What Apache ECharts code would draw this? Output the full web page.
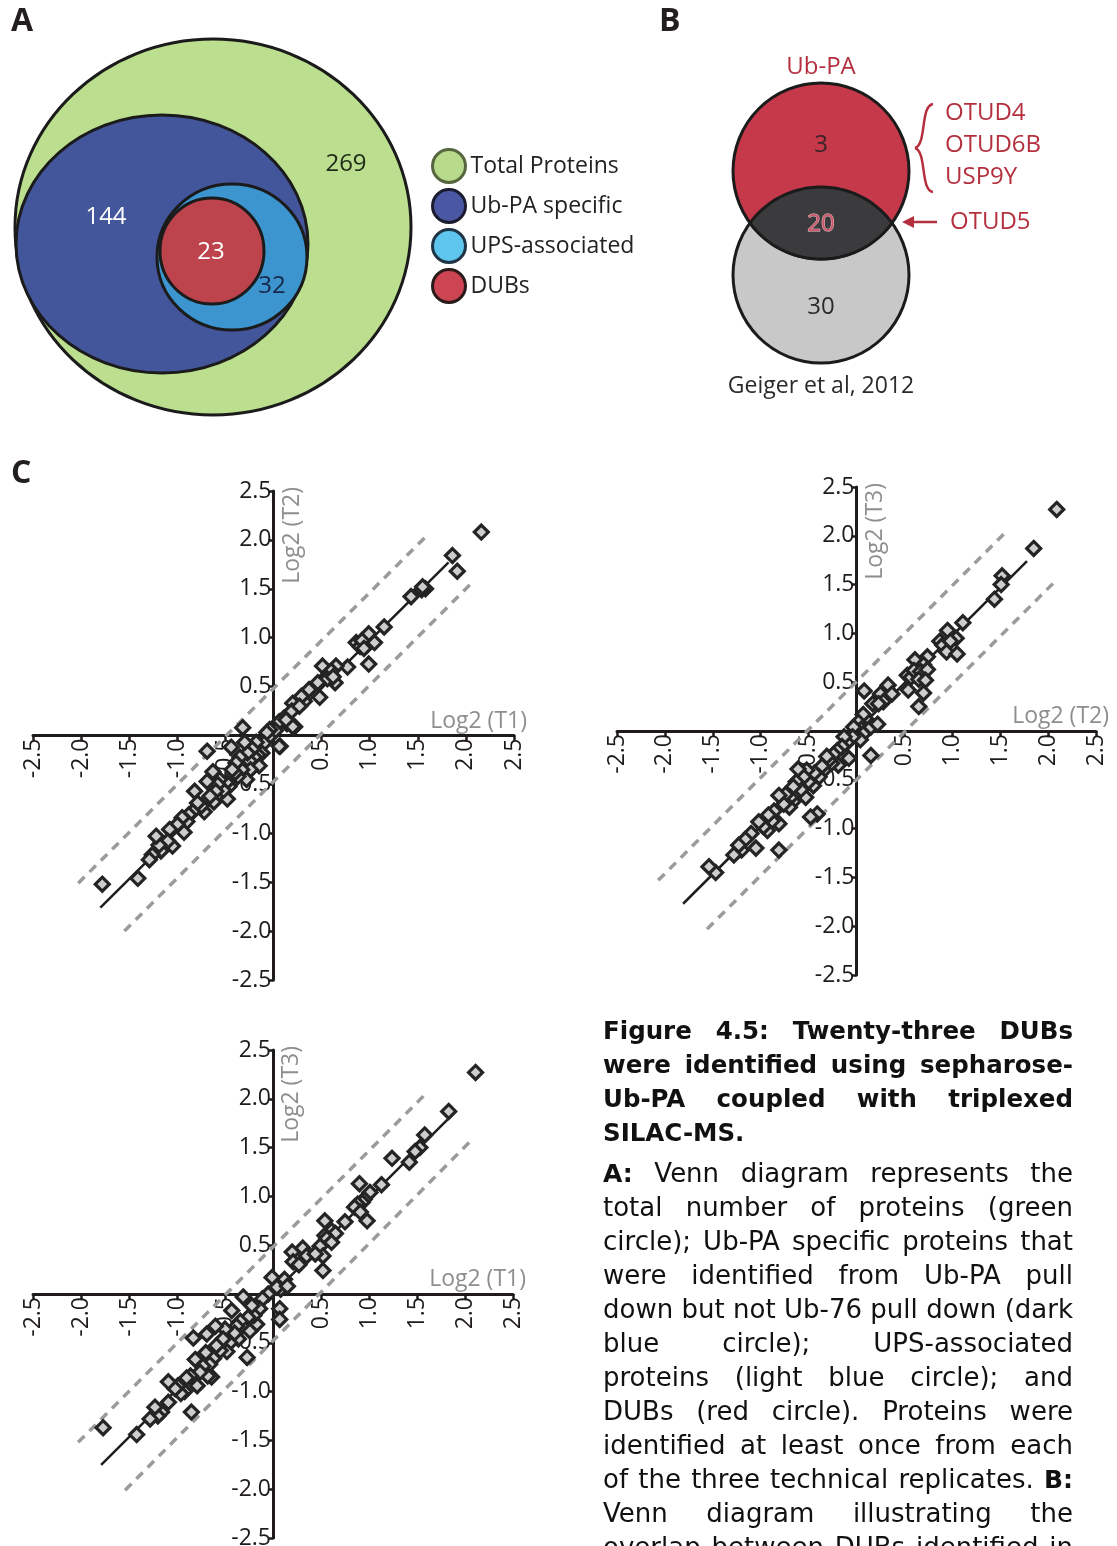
<!DOCTYPE html>
<html><head><meta charset="utf-8">
<script src="https://cdn.jsdelivr.net/npm/echarts@6/dist/echarts.min.js"></script>
<style>
html,body{margin:0;padding:0;background:#fff;}
#wrap{position:relative;width:1117px;height:1546px;overflow:hidden;}
#chart{position:absolute;left:0;top:0;width:1117px;height:1546px;}
#caption{position:absolute;left:603px;top:1014px;width:470px;font-family:"DejaVu Sans",sans-serif;font-size:26px;line-height:34px;color:#111;}
#caption .l{text-align:justify;text-align-last:justify;height:34px;overflow:visible;}
#caption .left{text-align:left;text-align-last:left;}
#caption .t{font-weight:bold;font-size:24.5px;}
#caption b{font-size:25px;}
#caption .gap{height:6px;}
</style></head>
<body>
<div id="wrap">
<div id="chart"></div>
<div id="caption">
<div class="l t">Figure 4.5: Twenty-three DUBs</div>
<div class="l t">were identified using sepharose-</div>
<div class="l t">Ub-PA coupled with triplexed</div>
<div class="l t left">SILAC-MS.</div>
<div class="gap"></div>
<div class="l"><b>A:</b> Venn diagram represents the</div>
<div class="l">total number of proteins (green</div>
<div class="l">circle); Ub-PA specific proteins that</div>
<div class="l">were identified from Ub-PA pull</div>
<div class="l">down but not Ub-76 pull down (dark</div>
<div class="l">blue circle); UPS-associated</div>
<div class="l">proteins (light blue circle); and</div>
<div class="l">DUBs (red circle). Proteins were</div>
<div class="l">identified at least once from each</div>
<div class="l">of the three technical replicates. <b>B:</b></div>
<div class="l">Venn diagram illustrating the</div>
<div class="l">overlap between DUBs identified in</div>
</div>
</div>
<script>
// ---------------- DATA ----------------
const vennASets = ['Total Proteins', 'Ub-PA specific', 'UPS-associated', 'DUBs'];
const vennACounts = [269, 144, 32, 23];

const vennBSets = ['Ub-PA', 'Geiger et al, 2012'];
const vennBCounts = [3, 20, 30];          // Ub-PA only, overlap, Geiger only
const vennBUniqueDUBs = ['OTUD4', 'OTUD6B', 'USP9Y'];
const vennBHighlight = 'OTUD5';

const tickValues = [-2.5, -2.0, -1.5, -1.0, -0.5, 0, 0.5, 1.0, 1.5, 2.0, 2.5];

const pointsT1T2 = [
 [2.16,2.08],[1.86,1.84],[1.91,1.68],[1.58,1.50],[1.54,1.49],[1.43,1.42],[1.55,1.52],[1.15,1.11],[0.99,1.04],[1.05,0.95],
 [0.86,0.95],[0.90,0.91],[0.92,0.97],[0.94,0.89],[0.99,0.73],[0.77,0.70],[0.65,0.71],[0.51,0.71],[0.58,0.64],[0.64,0.54],
 [0.55,0.60],[0.60,0.66],[0.56,0.58],[0.62,0.60],[0.46,0.54],[0.48,0.39],[0.37,0.47],[0.32,0.35],[0.29,0.40],[0.20,0.33],
 [0.19,0.25],[0.22,0.09],[0.11,0.18],[0.14,0.12],[0.06,0.14],[0.02,0.05],[-0.04,0.06],[0.07,-0.11],[0.20,0.09],[0.13,0.16],
 [0.27,0.30],[-0.05,-0.02],[-0.07,0.03],[0.06,-0.11],[-0.10,-0.08],[-0.12,-0.18],[-0.16,-0.20],[-0.18,-0.07],[-0.15,-0.31],[-0.20,-0.22],
 [-0.22,-0.14],[-0.25,-0.26],[-0.24,-0.35],[-0.27,-0.18],[-0.28,-0.45],[-0.30,-0.07],[-0.32,0.08],[-0.33,-0.35],[-0.35,-0.22],[-0.37,-0.42],
 [-0.39,-0.28],[-0.40,-0.38],[-0.43,-0.35],[-0.44,-0.12],[-0.46,-0.52],[-0.48,-0.65],[-0.49,-0.48],[-0.52,-0.56],[-0.56,-0.45],[-0.58,-0.50],
 [-0.60,-0.57],[-0.62,-0.68],[-0.63,-0.37],[-0.66,-0.62],[-0.69,-0.47],[-0.69,-0.16],[-0.72,-0.78],[-0.75,-0.72],[-0.79,-0.69],[-0.82,-0.57],
 [-0.84,-0.78],[-0.88,-0.81],[-0.90,-0.88],[-0.93,-0.99],[-0.95,-0.84],[-1.00,-0.91],[-1.05,-1.13],[-1.08,-0.96],[-1.10,-1.08],[-1.17,-1.18],
 [-1.19,-1.12],[-1.22,-1.03],[-1.26,-1.22],[-1.29,-1.27],[-1.41,-1.46],[-1.78,-1.52]
];
const pointsT2T3 = [
 [2.09,2.27],[1.85,1.87],[1.52,1.59],[1.51,1.50],[1.44,1.35],[1.11,1.11],[0.95,1.03],[1.04,0.95],[0.87,0.92],[0.90,0.88],
 [0.98,0.92],[0.94,0.81],[1.05,0.79],[0.74,0.76],[0.61,0.73],[0.70,0.68],[0.53,0.57],[0.57,0.55],[0.60,0.62],[0.67,0.61],
 [0.74,0.63],[0.65,0.53],[0.72,0.52],[0.54,0.42],[0.70,0.39],[0.65,0.25],[0.33,0.47],[0.25,0.38],[0.37,0.38],[0.28,0.30],
 [0.08,0.41],[0.17,0.28],[0.12,0.10],[0.07,0.17],[0.02,0.09],[0.05,0.02],[0.00,0.00],[-0.03,0.04],[0.07,-0.03],[0.04,-0.09],
 [0.15,-0.25],[0.15,0.04],[0.22,0.07],[0.23,0.28],[-0.04,-0.06],[-0.08,-0.28],[-0.10,-0.12],[-0.13,-0.06],[-0.15,-0.16],[-0.19,-0.35],
 [-0.20,-0.20],[-0.24,-0.24],[-0.26,-0.33],[-0.29,-0.30],[-0.31,-0.26],[-0.34,-0.40],[-0.36,-0.36],[-0.39,-0.47],[-0.41,-0.85],[-0.44,-0.43],
 [-0.45,-0.56],[-0.48,-0.88],[-0.50,-0.52],[-0.52,-0.40],[-0.53,-0.68],[-0.55,-0.47],[-0.58,-0.60],[-0.61,-0.39],[-0.63,-0.52],[-0.66,-0.57],
 [-0.66,-0.72],[-0.69,-0.68],[-0.70,-0.78],[-0.74,-0.65],[-0.76,-0.75],[-0.81,-0.66],[-0.81,-0.95],[-0.81,-1.22],[-0.86,-0.82],[-0.88,-0.92],
 [-0.92,-0.86],[-0.93,-1.02],[-0.97,-0.98],[-1.02,-0.93],[-1.05,-1.20],[-1.10,-1.05],[-1.16,-1.11],[-1.20,-1.22],[-1.23,-1.17],[-1.28,-1.27],
 [-1.47,-1.45],[-1.54,-1.39]
];
const pointsT1T3 = [
 [2.11,2.27],[1.83,1.87],[1.58,1.63],[1.53,1.50],[1.48,1.46],[1.42,1.35],[1.24,1.39],[1.13,1.12],[0.90,1.13],[1.01,1.04],
 [0.95,0.97],[0.93,0.94],[0.88,0.92],[0.85,0.89],[0.91,0.84],[0.98,0.75],[0.75,0.74],[0.54,0.75],[0.61,0.65],[0.65,0.62],
 [0.54,0.60],[0.56,0.57],[0.61,0.53],[0.49,0.49],[0.52,0.39],[0.52,0.24],[0.31,0.47],[0.20,0.43],[0.21,0.33],[0.35,0.39],
 [0.44,0.41],[0.27,0.30],[0.12,0.15],[0.08,0.05],[-0.01,0.17],[0.04,0.07],[0.15,0.08],[0.07,-0.15],[0.07,-0.26],[-0.05,0.00],
 [-0.11,-0.05],[-0.14,-0.15],[-0.17,-0.31],[-0.20,-0.22],[-0.22,-0.12],[-0.24,-0.38],[-0.26,-0.24],[-0.27,-0.65],[-0.31,-0.03],[-0.34,-0.28],
 [-0.36,-0.46],[-0.38,-0.33],[-0.40,-0.40],[-0.43,-0.17],[-0.45,-0.50],[-0.48,-0.59],[-0.50,-0.36],[-0.52,-0.46],[-0.55,-0.58],[-0.59,-0.53],
 [-0.60,-0.33],[-0.62,-0.66],[-0.64,-0.85],[-0.66,-0.72],[-0.68,-0.84],[-0.69,-0.41],[-0.70,-0.60],[-0.73,-0.74],[-0.76,-0.80],[-0.79,-0.94],
 [-0.81,-0.67],[-0.83,-0.45],[-0.85,-1.21],[-0.86,-0.84],[-0.90,-0.86],[-0.92,-1.00],[-0.96,-1.02],[-0.99,-0.94],[-1.02,-0.97],[-1.09,-0.90],
 [-1.09,-1.11],[-1.16,-1.21],[-1.20,-1.25],[-1.23,-1.16],[-1.28,-1.28],[-1.42,-1.44],[-1.77,-1.37]
];
const fitT1T2 = [[-1.80,-1.76],[1.82,1.77]];
const upperT1T2 = [[-2.03,-1.51],[1.60,2.05]];
const lowerT1T2 = [[-1.55,-2.00],[2.06,1.56]];
const fitT2T3 = [[-1.81,-1.77],[1.78,1.74]];
const upperT2T3 = [[-2.07,-1.53],[1.56,2.04]];
const lowerT2T3 = [[-1.56,-2.03],[2.05,1.51]];
const fitT1T3 = [[-1.79,-1.75],[1.82,1.79]];
const upperT1T3 = [[-2.03,-1.52],[1.61,2.07]];
const lowerT1T3 = [[-1.54,-2.01],[2.05,1.56]];

// ---------------- LAYOUT / STYLE ----------------
const FONT = '"Open Sans", "Noto Sans", sans-serif';
const AX = '#1f1b1c';
const vennALayout = {
  shapes: [[213, 227, 198, 188], [162, 244, 146, 129], [232, 257, 75, 73], [212, 251, 52, 53]],
  fills: ['#bcdf8f', '#44569b', '#3c95cf', '#bd434c'],
  labelPos: [[346, 164], [106, 217], [272, 286], [211, 252]],
  labelColors: ['#1f2a18', '#ffffff', '#17274a', '#ffffff'],
  legendFills: ['#b7db8b', '#4a58a3', '#5ec5ec', '#cd4453'],
  legendBorders: ['#56663f', '#1c1c30', '#1f3444', '#2b1a1a']
};
const vennBLayout = {
  circles: [[181, 171, 88], [181, 275, 88]],      // Ub-PA, Geiger
  fills: ['#c5394a', '#c8c8c8'],
  overlapFill: '#3b3b3d',
  countPos: [[181, 145], [181, 224], [181, 307]],
  countColors: ['#3a2426', '#e48d98', '#2a2a2a']
};
const plotGrids = [
  {left: 33, top: 491, width: 481, height: 489},
  {left: 617, top: 487, width: 479, height: 488},
  {left: 33, top: 1050, width: 480, height: 488}
];

const chart = echarts.init(document.getElementById('chart'), null, {renderer: 'canvas'});

function fmt(v) { return Math.abs(v) < 1e-9 ? '' : v.toFixed(1); }

function scatterAxes(gi, xName, yName) {
  const g = plotGrids[gi];
  const x = {
    type: 'value', gridIndex: gi, position: 'bottom', offset: -g.height / 2,
    min: tickValues[0], max: tickValues[tickValues.length - 1], interval: 0.5,
    name: xName, nameLocation: 'end', nameGap: 13, nameMoveOverlap: false,
    nameTextStyle: {color: '#8e8e8e', fontSize: 23, fontFamily: FONT, align: 'right', verticalAlign: 'bottom', padding: [0, 0, 3, 0]},
    axisLine: {onZero: false, lineStyle: {color: AX, width: 3}},
    axisTick: {show: true, length: 5, lineStyle: {color: AX, width: 2.5}},
    axisLabel: {rotate: 90, margin: 3, fontSize: 23, color: AX, fontFamily: FONT, formatter: fmt},
    splitLine: {show: false}
  };
  const y = {
    type: 'value', gridIndex: gi, position: 'left', offset: -g.width / 2,
    min: tickValues[0], max: tickValues[tickValues.length - 1], interval: 0.5,
    name: yName, nameLocation: 'end', nameGap: 4, nameRotate: 90, nameMoveOverlap: false,
    nameTextStyle: {color: '#8e8e8e', fontSize: 23, fontFamily: FONT, align: 'right', verticalAlign: 'top', padding: [7, 0, 0, 0]},
    axisLine: {onZero: false, lineStyle: {color: AX, width: 3}},
    axisTick: {show: true, length: 5, lineStyle: {color: AX, width: 2.5}},
    axisLabel: {margin: 2, fontSize: 23, color: AX, fontFamily: FONT, formatter: fmt},
    splitLine: {show: false}
  };
  return [x, y];
}
const [x0, y0] = scatterAxes(0, 'Log2 (T1)', 'Log2 (T2)');
const [x1, y1] = scatterAxes(1, 'Log2 (T2)', 'Log2 (T3)');
const [x2, y2] = scatterAxes(2, 'Log2 (T1)', 'Log2 (T3)');

function plotSeries(gi, pts, fit, up, lo) {
  const dash = {color: '#9b9b9b', width: 3.5, type: [9, 7]};
  return [
    {type: 'line', xAxisIndex: gi, yAxisIndex: gi, data: up, showSymbol: false, symbol: 'none', lineStyle: dash, z: 3, silent: true},
    {type: 'line', xAxisIndex: gi, yAxisIndex: gi, data: lo, showSymbol: false, symbol: 'none', lineStyle: dash, z: 3, silent: true},
    {type: 'line', xAxisIndex: gi, yAxisIndex: gi, data: fit, showSymbol: false, symbol: 'none', lineStyle: {color: '#1e1e1e', width: 2.5}, z: 3, silent: true},
    {type: 'scatter', xAxisIndex: gi, yAxisIndex: gi, data: pts, symbol: 'diamond', symbolSize: 14,
     itemStyle: {color: '#cdcdcd', borderColor: '#242424', borderWidth: 3.2, opacity: 1}, z: 4, silent: true}
  ];
}

// Venn A series (one per set, for the legend)
const vennASeries = vennASets.map((name, i) => ({
  type: 'custom', name: name, xAxisIndex: 3, yAxisIndex: 3, z: 2 + i, silent: true,
  itemStyle: {color: vennALayout.fills[i]},
  data: [vennALayout.shapes[i]],
  renderItem: (params, api) => {
    const c = api.coord([api.value(0), api.value(1)]);
    const s = api.size([api.value(2), api.value(3)]);
    return {type: 'ellipse', shape: {cx: c[0], cy: c[1], rx: s[0], ry: s[1]},
            style: {fill: vennALayout.fills[i], stroke: '#1b1b1b', lineWidth: 3}};
  }
}));
const vennALabelSeries = {
  type: 'custom', xAxisIndex: 3, yAxisIndex: 3, z: 10, silent: true,
  data: vennACounts.map((c, i) => [vennALayout.labelPos[i][0], vennALayout.labelPos[i][1], c, i]),
  renderItem: (params, api) => {
    const p = api.coord([api.value(0), api.value(1)]);
    const i = api.value(3);
    return {type: 'text', x: p[0], y: p[1],
            style: {text: String(api.value(2)), fill: vennALayout.labelColors[i], font: '24px ' + FONT, align: 'center', verticalAlign: 'middle'}};
  }
};

// Venn B
const vennBCircleSeries = {
  type: 'custom', xAxisIndex: 4, yAxisIndex: 4, z: 2, silent: true,
  data: [[...vennBLayout.circles[1], 1], [...vennBLayout.circles[0], 0]],
  renderItem: (params, api) => {
    const c = api.coord([api.value(0), api.value(1)]);
    const r = api.size([api.value(2), api.value(2)])[0];
    return {type: 'circle', shape: {cx: c[0], cy: c[1], r: r},
            style: {fill: vennBLayout.fills[api.value(3)], stroke: '#1b1b1b', lineWidth: 3}};
  }
};
const vennBOverlapSeries = {
  type: 'custom', xAxisIndex: 4, yAxisIndex: 4, z: 3, silent: true,
  data: [[vennBLayout.circles[0][0], vennBLayout.circles[0][1], vennBLayout.circles[1][0], vennBLayout.circles[1][1], vennBLayout.circles[0][2]]],
  renderItem: (params, api) => {
    const c1 = api.coord([api.value(0), api.value(1)]);
    const c2 = api.coord([api.value(2), api.value(3)]);
    const r = api.size([api.value(4), api.value(4)])[0];
    const h = (c2[1] - c1[1]) / 2;
    const w = Math.sqrt(r * r - h * h);
    const pts = [];
    const a1 = Math.atan2(-h, -w), a2 = Math.atan2(-h, w);
    for (let k = 0; k <= 60; k++) { const a = a1 + (a2 - a1) * k / 60; pts.push([c2[0] + r * Math.cos(a), c2[1] + r * Math.sin(a)]); }
    const b1 = Math.atan2(h, w), b2 = Math.atan2(h, -w);
    for (let k = 0; k <= 60; k++) { const a = b1 + (b2 - b1) * k / 60; pts.push([c1[0] + r * Math.cos(a), c1[1] + r * Math.sin(a)]); }
    return {type: 'polygon', shape: {points: pts}, style: {fill: vennBLayout.overlapFill, stroke: '#1b1b1b', lineWidth: 3}};
  }
};
const vennBLabelSeries = {
  type: 'custom', xAxisIndex: 4, yAxisIndex: 4, z: 10, silent: true,
  data: vennBCounts.map((c, i) => [vennBLayout.countPos[i][0], vennBLayout.countPos[i][1], c, i]),
  renderItem: (params, api) => {
    const p = api.coord([api.value(0), api.value(1)]);
    const i = api.value(3);
    const st = {text: String(api.value(2)), fill: vennBLayout.countColors[i], font: '24px ' + FONT, align: 'center', verticalAlign: 'middle'};
    if (i === 1) { st.fill = '#c9566a'; st.stroke = '#f2c2c8'; st.lineWidth = 1; }
    return {type: 'text', x: p[0], y: p[1], style: st};
  }
};

const RED = '#b5303f';
const redText = (txt, x, y, align) => ({type: 'text', x: x, y: y, silent: true,
  style: {text: txt, fill: RED, font: '24px ' + FONT, align: align || 'left', verticalAlign: 'middle'}});

const option = {
  animation: false,
  backgroundColor: '#ffffff',
  grid: [
    Object.assign({containLabel: false, outerBoundsMode: 'none'}, plotGrids[0]),
    Object.assign({containLabel: false, outerBoundsMode: 'none'}, plotGrids[1]),
    Object.assign({containLabel: false, outerBoundsMode: 'none'}, plotGrids[2]),
    {left: 0, top: 0, width: 420, height: 420, containLabel: false, outerBoundsMode: 'none', show: false},
    {left: 640, top: 0, width: 477, height: 420, containLabel: false, outerBoundsMode: 'none', show: false}
  ],
  xAxis: [x0, x1, x2,
    {type: 'value', gridIndex: 3, min: 0, max: 420, show: false},
    {type: 'value', gridIndex: 4, min: 0, max: 477, show: false}],
  yAxis: [y0, y1, y2,
    {type: 'value', gridIndex: 3, min: 0, max: 420, inverse: true, show: false},
    {type: 'value', gridIndex: 4, min: 0, max: 420, inverse: true, show: false}],
  legend: {
    orient: 'vertical', left: 431, top: 148, itemWidth: 33, itemHeight: 33, itemGap: 4,
    icon: 'circle', selectedMode: false, padding: 0,
    textStyle: {fontSize: 23, color: '#222', fontFamily: FONT},
    data: vennASets.map((n, i) => ({name: n, itemStyle: {color: vennALayout.legendFills[i], borderColor: vennALayout.legendBorders[i], borderWidth: 3}}))
  },
  graphic: [
    {type: 'text', x: 11, y: 6, style: {text: 'A', fill: '#231f20', font: 'bold 32px ' + FONT}},
    {type: 'text', x: 659, y: 6, style: {text: 'B', fill: '#231f20', font: 'bold 32px ' + FONT}},
    {type: 'text', x: 11, y: 458, style: {text: 'C', fill: '#231f20', font: 'bold 32px ' + FONT}},
    redText(vennBSets[0], 821, 67, 'center'),
    {type: 'text', x: 821, y: 386, style: {text: vennBSets[1], fill: '#2a2a2a', font: '23px ' + FONT, align: 'center', verticalAlign: 'middle'}},
    redText(vennBUniqueDUBs[0], 945, 113),
    redText(vennBUniqueDUBs[1], 945, 145),
    redText(vennBUniqueDUBs[2], 945, 177),
    redText(vennBHighlight, 950, 222),
    {type: 'bezierCurve', shape: {x1: 933, y1: 104, cpx1: 920, cpy1: 106, cpx2: 927, cpy2: 144, x2: 915, y2: 148}, style: {stroke: RED, lineWidth: 2.5, fill: null}},
    {type: 'bezierCurve', shape: {x1: 915, y1: 148, cpx1: 927, cpy1: 152, cpx2: 920, cpy2: 190, x2: 933, y2: 192}, style: {stroke: RED, lineWidth: 2.5, fill: null}},
    {type: 'line', shape: {x1: 937, y1: 222, x2: 910, y2: 222}, style: {stroke: RED, lineWidth: 2.5}},
    {type: 'polygon', shape: {points: [[902, 222], [914, 216], [914, 228]]}, style: {fill: RED}}
  ],
  series: [
    ...vennASeries, vennALabelSeries,
    vennBCircleSeries, vennBOverlapSeries, vennBLabelSeries,
    ...plotSeries(0, pointsT1T2, fitT1T2, upperT1T2, lowerT1T2),
    ...plotSeries(1, pointsT2T3, fitT2T3, upperT2T3, lowerT2T3),
    ...plotSeries(2, pointsT1T3, fitT1T3, upperT1T3, lowerT1T3)
  ]
};
chart.setOption(option);
</script>
</body></html>
